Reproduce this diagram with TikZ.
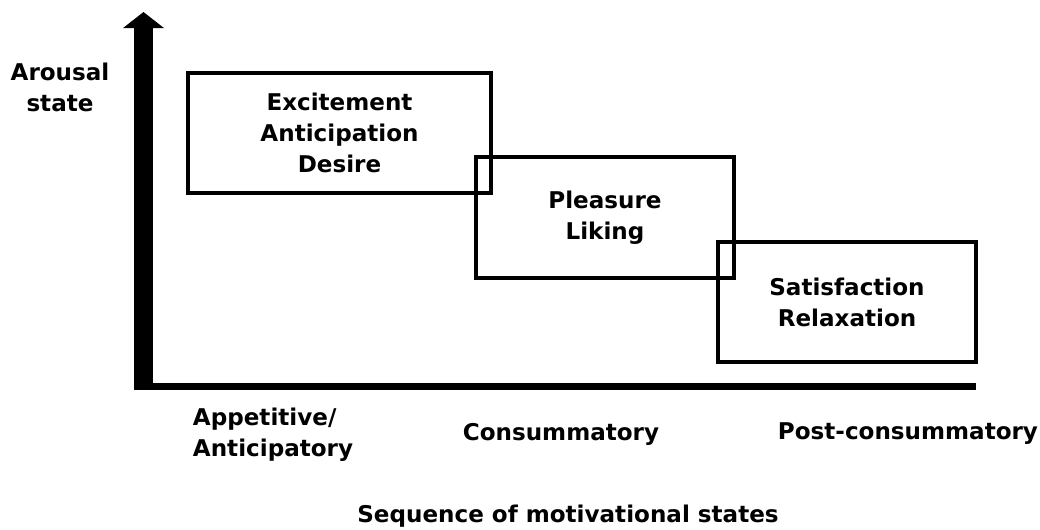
\documentclass[tikz,border=0pt]{standalone}
\usepackage{fontspec}
\setmainfont{DejaVu Sans}
\usetikzlibrary{arrows.meta, positioning}

\tikzset{
    stagebox/.style={draw, line width=2.6pt, rectangle, align=center, inner sep=0},
    lbl/.style={font=\fontsize{16.4}{22}\selectfont\bfseries, align=center}
}

\begin{document}
\begin{tikzpicture}[x=0.025cm, y=-0.025cm]
\useasboundingbox (0,0) rectangle (1040,529);
% axes
\coordinate (O) at (143.5,390);
\coordinate (ytip) at (143.5,12);
\coordinate (xs) at (134,386.5);
\coordinate (xe) at (976,386.5);
\draw[line width=0.19cm] (xs) -- (xe);
\draw[line width=0.47cm, -{Triangle[width=1cm, length=0.4cm]}] (O) -- (ytip);
% stages
\node[stagebox, lbl, minimum width=7.575cm, minimum height=3cm] (excite) at (339.5,133) {Excitement\\Anticipation\\Desire};
\node[stagebox, lbl, minimum width=6.45cm, minimum height=3.025cm] (pleasure) at (605,217.5) {Pleasure\\Liking};
\node[stagebox, lbl, minimum width=6.45cm, minimum height=3cm] (satisf) at (847,302) {Satisfaction\\Relaxation};
% labels
\node[lbl] (arousal) at (60,87) {Arousal\\state};
\node[lbl, align=left, anchor=west] (appet) at (188,435) {Appetitive/\\Anticipatory};
\node[lbl] (consum) at (561,434) {Consummatory};
\node[lbl] (post) at (908,434) {Post-consummatory};
\node[lbl] (seq) at (568,516) {Sequence of motivational states};
\end{tikzpicture}
\end{document}
